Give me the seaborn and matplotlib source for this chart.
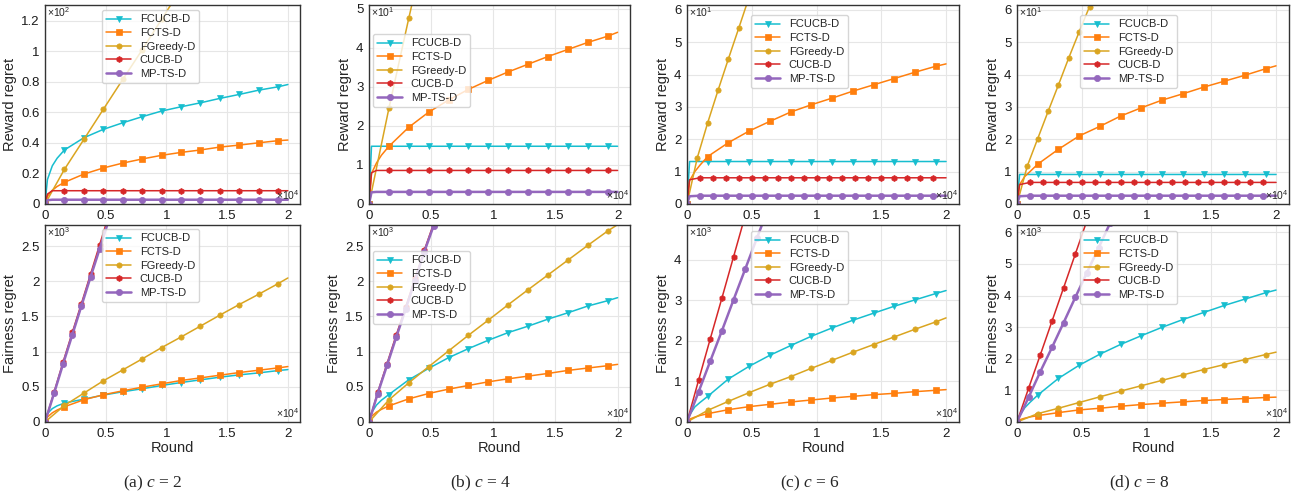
import numpy as np
import matplotlib
matplotlib.use("Agg")
import matplotlib.pyplot as plt
import seaborn as sns
from matplotlib.ticker import FuncFormatter, MultipleLocator

sns.set_style("whitegrid")
plt.rcParams["font.family"] = ["Liberation Sans", "DejaVu Sans"]
plt.rcParams["mathtext.fontset"] = "custom"
plt.rcParams["mathtext.rm"] = "Liberation Sans"
plt.rcParams["mathtext.it"] = "Liberation Serif:italic"

# ---------------- data (values in displayed units; scaled by 10**exp) ----------------
SERIES = ["FCUCB-D", "FCTS-D", "FGreedy-D", "CUCB-D", "MP-TS-D"]
CAPTIONS = ["(a) $c$ = 2", "(b) $c$ = 4", "(c) $c$ = 6", "(d) $c$ = 8"]
REW_EXP = [2, 1, 1, 1]
FAIR_EXP = [3, 3, 3, 3]
X_EXP = 4
X_TICKS = [0, 0.5, 1, 1.5, 2]

X_SQRT = [0, 200, 600, 1000, 1600, 3200, 4800, 6400, 8000, 9600, 11200,
          12800, 14400, 16000, 17600, 19200, 20000]
X_LIN = [0, 1600, 3200, 4800, 6400, 8000, 9600, 11200, 12800, 14400,
         16000, 17600, 19200, 20000]
X_FLAT10 = [0, 200, 1000, 2000, 3000, 4000, 5000, 6000, 7000, 8000, 9000, 10000,
            11000, 12000, 13000, 14000, 15000, 16000, 17000, 18000, 19000, 20000]

# ---- (a) c = 2 ----
a_rew_fcucb = [0, 0.16, 0.25, 0.30, 0.354, 0.434, 0.489, 0.532, 0.572, 0.609, 0.637,
               0.663, 0.692, 0.718, 0.746, 0.768, 0.783]
a_rew_fcts = [0, 0.05, 0.09, 0.115, 0.142, 0.196, 0.236, 0.268, 0.295, 0.319, 0.338,
              0.354, 0.373, 0.386, 0.401, 0.415, 0.419]
a_rew_fgreedy_x = [0, 1600, 3200, 4800, 6400, 8000, 9600, 11200]
a_rew_fgreedy = [0, 0.227, 0.423, 0.62, 0.816, 1.01, 1.21, 1.41]
a_rew_cucb = [0, 0.065, 0.087, 0.087, 0.087, 0.087, 0.087, 0.087, 0.087, 0.087, 0.087,
              0.087, 0.087, 0.087, 0.087, 0.087, 0.087]
a_rew_mpts = [0, 0.025, 0.028, 0.028, 0.028, 0.028, 0.028, 0.028, 0.028, 0.028, 0.028,
              0.028, 0.028, 0.028, 0.028, 0.028, 0.028]
a_fair_fcucb = [0, 0.12, 0.19, 0.23, 0.269, 0.325, 0.382, 0.43, 0.472, 0.519, 0.561,
                0.599, 0.637, 0.67, 0.698, 0.731, 0.745]
a_fair_fcts = [0, 0.07, 0.13, 0.17, 0.217, 0.316, 0.387, 0.443, 0.495, 0.542, 0.59,
               0.627, 0.665, 0.703, 0.736, 0.769, 0.788]
a_fair_fgreedy = [0, 0.235, 0.41, 0.585, 0.74, 0.896, 1.057, 1.208, 1.363, 1.519,
                  1.67, 1.816, 1.967, 2.047]
a_fair_steep_x = [0, 750, 1500, 2250, 3000, 3750, 4500, 5250]
a_fair_cucb = [0, 0.425, 0.858, 1.274, 1.684, 2.10, 2.52, 2.94]
a_fair_mpts = [0, 0.41, 0.83, 1.24, 1.65, 2.06, 2.46, 2.87]

# ---- (b) c = 4 ----
b_rew_fcucb = [0, 1.48, 1.48, 1.48, 1.48, 1.48, 1.48, 1.48, 1.48, 1.48, 1.48,
               1.48, 1.48, 1.48, 1.48, 1.48, 1.48]
b_rew_fcts = [0, 0.78, 1.05, 1.25, 1.478, 1.967, 2.354, 2.663, 2.938, 3.17, 3.385,
              3.582, 3.78, 3.96, 4.14, 4.30, 4.40]
b_rew_fgreedy_x = [0, 1600, 3200, 4800]
b_rew_fgreedy = [0, 2.45, 4.76, 7.0]
b_rew_cucb = [0, 0.80, 0.86, 0.86, 0.86, 0.86, 0.86, 0.86, 0.86, 0.86, 0.86,
              0.86, 0.86, 0.86, 0.86, 0.86, 0.86]
b_rew_mpts = [0, 0.30, 0.31, 0.31, 0.31, 0.31, 0.31, 0.31, 0.31, 0.31, 0.31,
              0.31, 0.31, 0.31, 0.31, 0.31, 0.31]
b_fair_fcucb = [0, 0.13, 0.24, 0.31, 0.39, 0.6, 0.762, 0.914, 1.043, 1.162, 1.271,
                1.362, 1.462, 1.552, 1.648, 1.724, 1.767]
b_fair_fcts = [0, 0.08, 0.14, 0.18, 0.229, 0.329, 0.405, 0.467, 0.519, 0.571, 0.614,
               0.652, 0.69, 0.733, 0.767, 0.80, 0.819]
b_fair_fgreedy = [0, 0.314, 0.557, 0.786, 1.01, 1.233, 1.448, 1.667, 1.88, 2.09,
                  2.30, 2.51, 2.714, 2.805]
b_fair_steep_x = [0, 700, 1450, 2200, 2950, 3700, 4450, 5200, 5950]
b_fair_cucb = [0, 0.42, 0.83, 1.24, 1.63, 2.04, 2.44, 2.82, 3.22]
b_fair_mpts = [0, 0.405, 0.805, 1.21, 1.605, 2.01, 2.42, 2.79, 3.19]

# ---- (c) c = 6 ----
c_rew_fcucb = [0, 1.313, 1.313, 1.313, 1.313, 1.313, 1.313, 1.313, 1.313, 1.313, 1.313,
               1.313, 1.313, 1.313, 1.313, 1.313, 1.313]
c_rew_fcts = [0, 0.72, 1.0, 1.2, 1.467, 1.897, 2.256, 2.554, 2.841, 3.067, 3.272,
              3.487, 3.682, 3.877, 4.072, 4.256, 4.33]
c_rew_fgreedy_x = [0, 800, 1600, 2400, 3200, 4000, 4800, 5600]
c_rew_fgreedy = [0, 1.436, 2.513, 3.518, 4.49, 5.44, 6.4, 7.3]
c_rew_cucb = [0, 0.75] + [0.81] * 20
c_rew_mpts = [0, 0.24] + [0.256] * 20
c_fair_fcucb = [0, 0.17, 0.37, 0.48, 0.632, 1.06, 1.372, 1.643, 1.881, 2.111, 2.316,
                2.505, 2.678, 2.85, 3.006, 3.162, 3.236]
c_fair_fcts = [0, 0.07, 0.12, 0.16, 0.205, 0.304, 0.378, 0.435, 0.493, 0.542, 0.591,
               0.632, 0.673, 0.706, 0.747, 0.78, 0.797]
c_fair_fgreedy = [0, 0.287, 0.509, 0.723, 0.928, 1.117, 1.322, 1.519, 1.717, 1.906,
                  2.094, 2.283, 2.464, 2.563]
c_fair_cucb_x = [0, 900, 1800, 2700, 3600, 4500]
c_fair_cucb = [0, 1.035, 2.053, 3.056, 4.074, 5.09]
c_fair_mpts_x = [0, 900, 1800, 2700, 3600, 4500, 5400, 6300]
c_fair_mpts = [0, 0.747, 1.503, 2.25, 3.014, 3.77, 4.53, 5.28]

# ---- (d) c = 8 ----
d_rew_fcucb = [0, 0.913, 0.913, 0.913, 0.913, 0.913, 0.913, 0.913, 0.913, 0.913, 0.913,
               0.913, 0.913, 0.913, 0.913, 0.913, 0.913]
d_rew_fcts = [0, 0.6, 0.85, 1.0, 1.231, 1.692, 2.103, 2.4, 2.718, 2.974, 3.21,
              3.405, 3.61, 3.795, 3.979, 4.18, 4.27]
d_rew_fgreedy_x = [0, 800, 1600, 2400, 3200, 4000, 4800, 5600]
d_rew_fgreedy = [0, 1.18, 2.02, 2.86, 3.68, 4.52, 5.32, 6.1]
d_rew_cucb = [0, 0.6] + [0.667] * 20
d_rew_mpts = [0, 0.24] + [0.256] * 20
d_fair_fcucb = [0, 0.2, 0.45, 0.62, 0.85, 1.38, 1.795, 2.145, 2.453, 2.729, 2.995,
                3.239, 3.462, 3.685, 3.887, 4.088, 4.173]
d_fair_fcts = [0, 0.07, 0.12, 0.16, 0.202, 0.297, 0.382, 0.435, 0.499, 0.552, 0.595,
               0.637, 0.68, 0.711, 0.743, 0.775, 0.786]
d_fair_fgreedy = [0, 0.265, 0.435, 0.616, 0.796, 0.977, 1.147, 1.317, 1.487, 1.657,
                  1.816, 1.975, 2.134, 2.209]
d_fair_cucb_x = [0, 900, 1800, 2700, 3600, 4500, 5400]
d_fair_cucb = [0, 1.073, 2.124, 3.186, 4.248, 5.31, 6.37]
d_fair_mpts_x = [0, 900, 1800, 2700, 3600, 4500, 5400, 6300, 7200]
d_fair_mpts = [0, 0.786, 1.593, 2.357, 3.143, 3.94, 4.726, 5.51, 6.3]

# axis limits / tick steps in displayed units
REW_YMAX = [1.304, 5.1, 6.15, 6.15]
REW_STEP = [0.2, 1, 1, 1]
FAIR_YMAX = [2.8, 2.8, 4.85, 6.23]
FAIR_STEP = [0.5, 0.5, 1, 1]
X_MAX = 2.1

# ---------------- styling ----------------
COLORS = {"FCUCB-D": "#17becf", "FCTS-D": "#ff7f0e", "FGreedy-D": "#daa520",
          "CUCB-D": "#d62728", "MP-TS-D": "#9467bd"}
MARKERS = {"FCUCB-D": "v", "FCTS-D": "s", "FGreedy-D": "o", "CUCB-D": "h", "MP-TS-D": "o"}
MSIZE = {"FCUCB-D": 5, "FCTS-D": 4.8, "FGreedy-D": 3.8, "CUCB-D": 4.3, "MP-TS-D": 4.5}
LW = {"FCUCB-D": 1.1, "FCTS-D": 1.1, "FGreedy-D": 1.1, "CUCB-D": 1.1, "MP-TS-D": 1.8}

ME_SQRT = [0] + list(range(4, 16))
ME_LIN = list(range(0, 13))
ME_FLAT10 = [0] + list(range(2, 21))
ME_ALL = None

panels_top = [
    [(X_SQRT, a_rew_fcucb, ME_SQRT), (X_SQRT, a_rew_fcts, ME_SQRT),
     (a_rew_fgreedy_x, a_rew_fgreedy, ME_ALL), (X_SQRT, a_rew_cucb, ME_SQRT),
     (X_SQRT, a_rew_mpts, ME_SQRT)],
    [(X_SQRT, b_rew_fcucb, ME_SQRT), (X_SQRT, b_rew_fcts, ME_SQRT),
     (b_rew_fgreedy_x, b_rew_fgreedy, ME_ALL), (X_SQRT, b_rew_cucb, ME_SQRT),
     (X_SQRT, b_rew_mpts, ME_SQRT)],
    [(X_SQRT, c_rew_fcucb, ME_SQRT), (X_SQRT, c_rew_fcts, ME_SQRT),
     (c_rew_fgreedy_x, c_rew_fgreedy, ME_ALL), (X_FLAT10, c_rew_cucb, ME_FLAT10),
     (X_FLAT10, c_rew_mpts, ME_FLAT10)],
    [(X_SQRT, d_rew_fcucb, ME_SQRT), (X_SQRT, d_rew_fcts, ME_SQRT),
     (d_rew_fgreedy_x, d_rew_fgreedy, ME_ALL), (X_FLAT10, d_rew_cucb, ME_FLAT10),
     (X_FLAT10, d_rew_mpts, ME_FLAT10)],
]
panels_bot = [
    [(X_SQRT, a_fair_fcucb, ME_SQRT), (X_SQRT, a_fair_fcts, ME_SQRT),
     (X_LIN, a_fair_fgreedy, ME_LIN), (a_fair_steep_x, a_fair_cucb, ME_ALL),
     (a_fair_steep_x, a_fair_mpts, ME_ALL)],
    [(X_SQRT, b_fair_fcucb, ME_SQRT), (X_SQRT, b_fair_fcts, ME_SQRT),
     (X_LIN, b_fair_fgreedy, ME_LIN), (b_fair_steep_x, b_fair_cucb, ME_ALL),
     (b_fair_steep_x, b_fair_mpts, ME_ALL)],
    [(X_SQRT, c_fair_fcucb, ME_SQRT), (X_SQRT, c_fair_fcts, ME_SQRT),
     (X_LIN, c_fair_fgreedy, ME_LIN), (c_fair_cucb_x, c_fair_cucb, ME_ALL),
     (c_fair_mpts_x, c_fair_mpts, ME_ALL)],
    [(X_SQRT, d_fair_fcucb, ME_SQRT), (X_SQRT, d_fair_fcts, ME_SQRT),
     (X_LIN, d_fair_fgreedy, ME_LIN), (d_fair_cucb_x, d_fair_cucb, ME_ALL),
     (d_fair_mpts_x, d_fair_mpts, ME_ALL)],
]

# layout in pixels
W, H = 1309, 501
COL_L = [45, 369, 687, 1017]
COL_R = [300, 630, 959, 1289]
ROW_TB = [(5, 204), (225, 422)]
LEG_TOP = [(102, 10), (373, 34), (751, 15), (1080, 15)]
LEG_BOT = [(102, 229), (373, 251), (751, 231), (1080, 231)]
CAP_X = [153, 481, 810, 1139]
CAP_Y = 483

fig = plt.figure(figsize=(W / 100, H / 100), dpi=100)


def style_axis(ax, exp, ymax, step, ylabel, xlabel):
    ax.set_xlim(0, X_MAX * 10 ** X_EXP)
    ax.set_ylim(0, ymax * 10 ** exp)
    ax.set_xticks([t * 10 ** X_EXP for t in X_TICKS])
    ax.xaxis.set_major_formatter(FuncFormatter(lambda v, p: f"{v / 10 ** X_EXP:g}"))
    ax.yaxis.set_major_locator(MultipleLocator(step * 10 ** exp))
    ax.yaxis.set_major_formatter(FuncFormatter(lambda v, p, e=exp: f"{round(v / 10 ** e, 6):g}"))
    ax.tick_params(labelsize=9.5, length=2, width=0.8, pad=2, colors="0.1")
    ax.grid(True, color="0.9", lw=0.8)
    for s in ax.spines.values():
        s.set_color("0.2")
        s.set_linewidth(1.0)
    ax.set_ylabel(ylabel, fontsize=10.5, labelpad=3)
    ax.set_xlabel(xlabel, fontsize=10.5, labelpad=1)
    ax.text(0.006, 0.995, "×10$^{%d}$" % exp, transform=ax.transAxes, ha="left", va="top",
            fontsize=7.5, color="0.15")
    ax.text(1.0, 0.012, "×10$^{%d}$" % X_EXP, transform=ax.transAxes, ha="right",
            va="bottom", fontsize=7.5, color="0.15")


def draw_panel(ax, curves, exp, leg_pos):
    for name, (xs, ys, me) in zip(SERIES, curves):
        sns.lineplot(x=np.array(xs, float), y=np.array(ys, float) * 10 ** exp, ax=ax,
                     color=COLORS[name], marker=MARKERS[name], markersize=MSIZE[name],
                     markevery=me, lw=LW[name], label=name, sort=False, estimator=None,
                     markeredgecolor=COLORS[name], markeredgewidth=0.5)
    h, l = ax.get_legend_handles_labels()
    ax.legend(h, l, loc="upper left", bbox_to_anchor=(leg_pos[0] / W, 1 - leg_pos[1] / H),
              bbox_transform=fig.transFigure, borderaxespad=0, fontsize=8,
              handlelength=2.2, labelspacing=0.32, borderpad=0.4, handletextpad=0.8,
              framealpha=0.8, edgecolor="0.8", fancybox=True)


for i in range(4):
    for r, (curves, exps, ymaxs, steps, ylab, xlab, legs) in enumerate([
            (panels_top[i], REW_EXP, REW_YMAX, REW_STEP, "Reward regret", "", LEG_TOP),
            (panels_bot[i], FAIR_EXP, FAIR_YMAX, FAIR_STEP, "Fairness regret", "Round", LEG_BOT)]):
        t, b = ROW_TB[r]
        ax = fig.add_axes([COL_L[i] / W, 1 - b / H, (COL_R[i] - COL_L[i]) / W, (b - t) / H])
        draw_panel(ax, curves, exps[i], legs[i])
        style_axis(ax, exps[i], ymaxs[i], steps[i], ylab, xlab)
    fig.text(CAP_X[i] / W, 1 - CAP_Y / H, CAPTIONS[i], ha="center", va="center",
             fontsize=12.5, family="Liberation Serif")

fig.savefig("out.png", dpi=100)
